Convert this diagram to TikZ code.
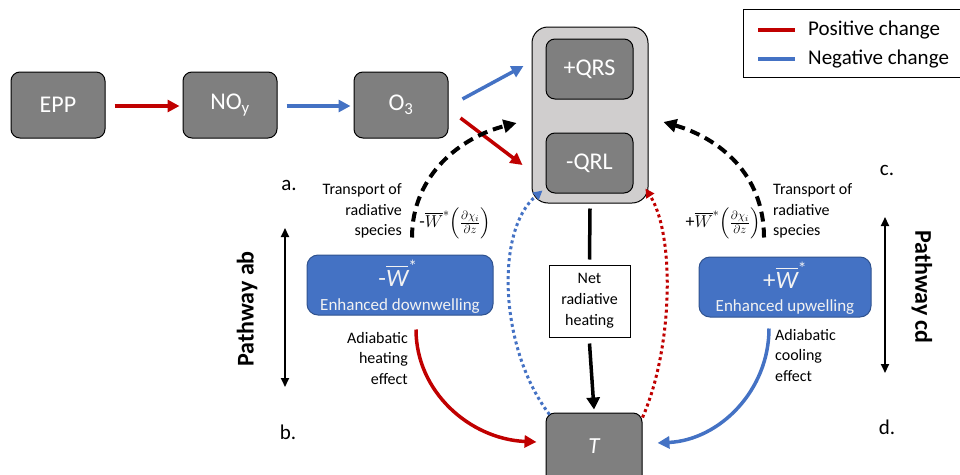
\documentclass[tikz,border=0pt]{standalone}
\usepackage{amsmath}
\usepackage{fontspec}
\setmainfont{Carlito}
\usetikzlibrary{arrows.meta,calc}
\definecolor{boxgray}{HTML}{7F7F7F}
\definecolor{contgray}{HTML}{D0CECE}
\definecolor{myred}{HTML}{C00000}
\definecolor{myblue}{HTML}{4472C4}
\definecolor{blueborder}{HTML}{2F528F}
\definecolor{paletext}{HTML}{F2F2F2}
\begin{document}
\begin{tikzpicture}[x=1pt,y=-1pt,
  graybox/.style={draw=black, line width=1pt, fill=boxgray, rounded corners=9pt, text=white,
    font=\fontsize{24}{26}\selectfont, inner sep=0pt, minimum width=94pt, minimum height=66pt},
  innerbox/.style={graybox, minimum width=87pt, minimum height=60pt},
  bluebox/.style={draw=blueborder, line width=1pt, fill=myblue, rounded corners=11pt, inner sep=0pt, minimum height=60pt},
  wlabel/.style={text=paletext, font=\fontsize{25}{27}\selectfont, inner sep=0pt},
  wsub/.style={text=paletext, font=\fontsize{17}{20}\selectfont, inner sep=0pt},
  lab/.style={font=\fontsize{16}{20.5}\selectfont, inner sep=0pt},
  letterlab/.style={font=\fontsize{21}{24}\selectfont, inner sep=0pt},
  pathlab/.style={font=\bfseries\fontsize{24}{26}\selectfont, inner sep=0pt},
  mathlab/.style={font=\fontsize{18}{20}\selectfont, inner sep=0pt},
  redarrow/.style={draw=myred, line width=3.5pt, -{Triangle[length=12pt,width=12pt]}},
  bluearrow/.style={draw=myblue, line width=3.5pt, -{Triangle[length=12pt,width=12pt]}},
  dasharrow/.style={draw=black, line width=4pt, dash pattern=on 10pt off 6pt, -{Triangle[length=13pt,width=13pt]}},
  reddot/.style={draw=myred, line width=3pt, dash pattern=on 3pt off 3pt, -{Triangle[length=9pt,width=9pt]}},
  bluedot/.style={draw=myblue, line width=3pt, dash pattern=on 3pt off 3pt, -{Triangle[length=9pt,width=9pt]}},
  blackline/.style={draw=black, line width=3.5pt},
  patharrow/.style={draw=black, line width=1.8pt, {Triangle[length=9pt,width=8pt]}-{Triangle[length=9pt,width=8pt]}}
]
\useasboundingbox (0,0) rectangle (960,474);

% top chain
\node[graybox] (EPP) at (58,105) {EPP};
\node[graybox] (NOy) at (230,105) {NO\textsubscript{y}};
\node[graybox] (O3) at (401,105) {O\textsubscript{3}};

% container
\node[draw=black, line width=1pt, fill=contgray, rounded corners=16pt, minimum width=116pt, minimum height=176pt, inner sep=0pt] (C) at (590,115) {};
\node[innerbox] (QRS) at (589.5,69) {+QRS};
\node[innerbox] (QRL) at (589.5,163) {-QRL};

% net box and T
\node[draw=black, line width=1pt, fill=white, minimum width=81pt, minimum height=72pt, inner sep=0pt, align=center,
  font=\fontsize{16}{21}\selectfont] (Net) at (589.5,301) {Net\\radiative\\heating};
\node[graybox, minimum width=96pt, minimum height=72pt] (T) at (594,449) {};
\node[text=white, font=\itshape\fontsize{23}{25}\selectfont, inner sep=0pt] (Tlab) at (594,446) {T};

% blue boxes
\node[bluebox, minimum width=186pt] (Wl) at (400,285) {};
\node[wlabel] (Wltop) at (398,273) {-$\overline{\text{\itshape W}}^{\text{*}}$};
\node[wsub] (Wlbot) at (400,306) {Enhanced downwelling};
\node[bluebox, minimum width=172pt] (Wr) at (785,287) {};
\node[wlabel] (Wrtop) at (785,275) {+$\overline{\text{\itshape W}}^{\text{*}}$};
\node[wsub] (Wrbot) at (785,307) {Enhanced upwelling};

% chain arrows
\draw[redarrow] ($(EPP.east)+(9,1)$) -- ($(NOy.west)+(-3,1)$);
\draw[bluearrow] ($(NOy.east)+(9,1)$) -- ($(O3.west)+(-3,1)$);
\draw[bluearrow] ($(O3.east)+(14,-6)$) -- ($(QRS.west)+(-22,-3)$);
\draw[redarrow] ($(O3.east)+(12,13)$) -- ($(QRL.west)+(-23,2)$);

% vertical black
\draw[blackline] ($(C.south)+(0,5)$) -- ($(Net.north)+(0,-5)$);
\draw[blackline, -{Triangle[length=12pt,width=13pt]}] ($(Net.south)+(0,6)$) -- ($(T.north)+(0,-3)$);

% dashed transport arrows
\draw[dasharrow] ($(Wl.north)+(12,-17)$) .. controls +(0,-63) and +(-55,14) .. ($(C.west)+(-15,8)$);
\draw[dasharrow] ($(Wr.north)+(-21,-19)$) .. controls +(0,-64) and +(55,16) .. ($(C.east)+(15,7)$);

% adiabatic arrows
\draw[redarrow] ($(Wl.south)+(16,14)$) .. controls +(0,62) and +(-67,-3) .. ($(T.west)+(-9,-7)$);
\draw[bluearrow] ($(Wr.south)+(-16,11)$) .. controls +(0,62) and +(62,-3) .. ($(T.east)+(15,-6)$);

% dotted feedback arrows
\draw[bluedot] ($(T.north west)+(4,2)$) .. controls +(-50,-65) and +(-48,40) .. ($(C.south west)+(11,-13)$);
\draw[reddot] ($(T.north east)+(0,5)$) .. controls +(30,-68) and +(30,47) .. ($(C.south east)+(-3,-15)$);

% labels
\node[lab, anchor=east, align=right] (TrL) at (402,211) {Transport of\\radiative\\species};
\node[lab, anchor=west, align=left] (TrR) at (773,211) {Transport of\\radiative\\species};
\node[mathlab] (ML) at (455,223) {-$\overline{W}^{*}\!\left(\frac{\partial\chi_i}{\partial z}\right)$};
\node[mathlab] (MR) at (723,223) {+$\overline{W}^{*}\!\left(\frac{\partial\chi_i}{\partial z}\right)$};
\node[lab, anchor=east, align=right] (AdL) at (408,358) {Adiabatic\\heating\\effect};
\node[lab, anchor=west, align=left] (AdR) at (775,355) {Adiabatic\\cooling\\effect};

\node[letterlab] (la) at (289,185) {a.};
\node[letterlab] (lb) at (288,432) {b.};
\node[letterlab] (lc) at (887,170) {c.};
\node[letterlab] (ld) at (887,427) {d.};

% pathways
\coordinate (PLt) at (285,228);
\coordinate (PLb) at (285,387);
\draw[patharrow] (PLt) -- (PLb);
\node[pathlab, rotate=90] (PL) at (247,309) {Pathway ab};
\coordinate (PRt) at (885,217);
\coordinate (PRb) at (885,373);
\draw[patharrow] (PRt) -- (PRb);
\node[pathlab, rotate=-90] (PR) at (922,287) {Pathway cd};

% legend
\node[draw=black, line width=1pt, minimum width=232pt, minimum height=68pt, inner sep=0pt] (Leg) at (859,43) {};
\coordinate (L1a) at (758,30); \coordinate (L1b) at (795,30);
\coordinate (L2a) at (758,59); \coordinate (L2b) at (795,59);
\draw[draw=myred, line width=4pt] (L1a) -- (L1b);
\draw[draw=myblue, line width=4pt] (L2a) -- (L2b);
\node[font=\fontsize{21}{24}\selectfont, anchor=west, inner sep=0pt] (LegP) at (808,30) {Positive change};
\node[font=\fontsize{21}{24}\selectfont, anchor=west, inner sep=0pt] (LegN) at (808,59) {Negative change};
\end{tikzpicture}
\end{document}
